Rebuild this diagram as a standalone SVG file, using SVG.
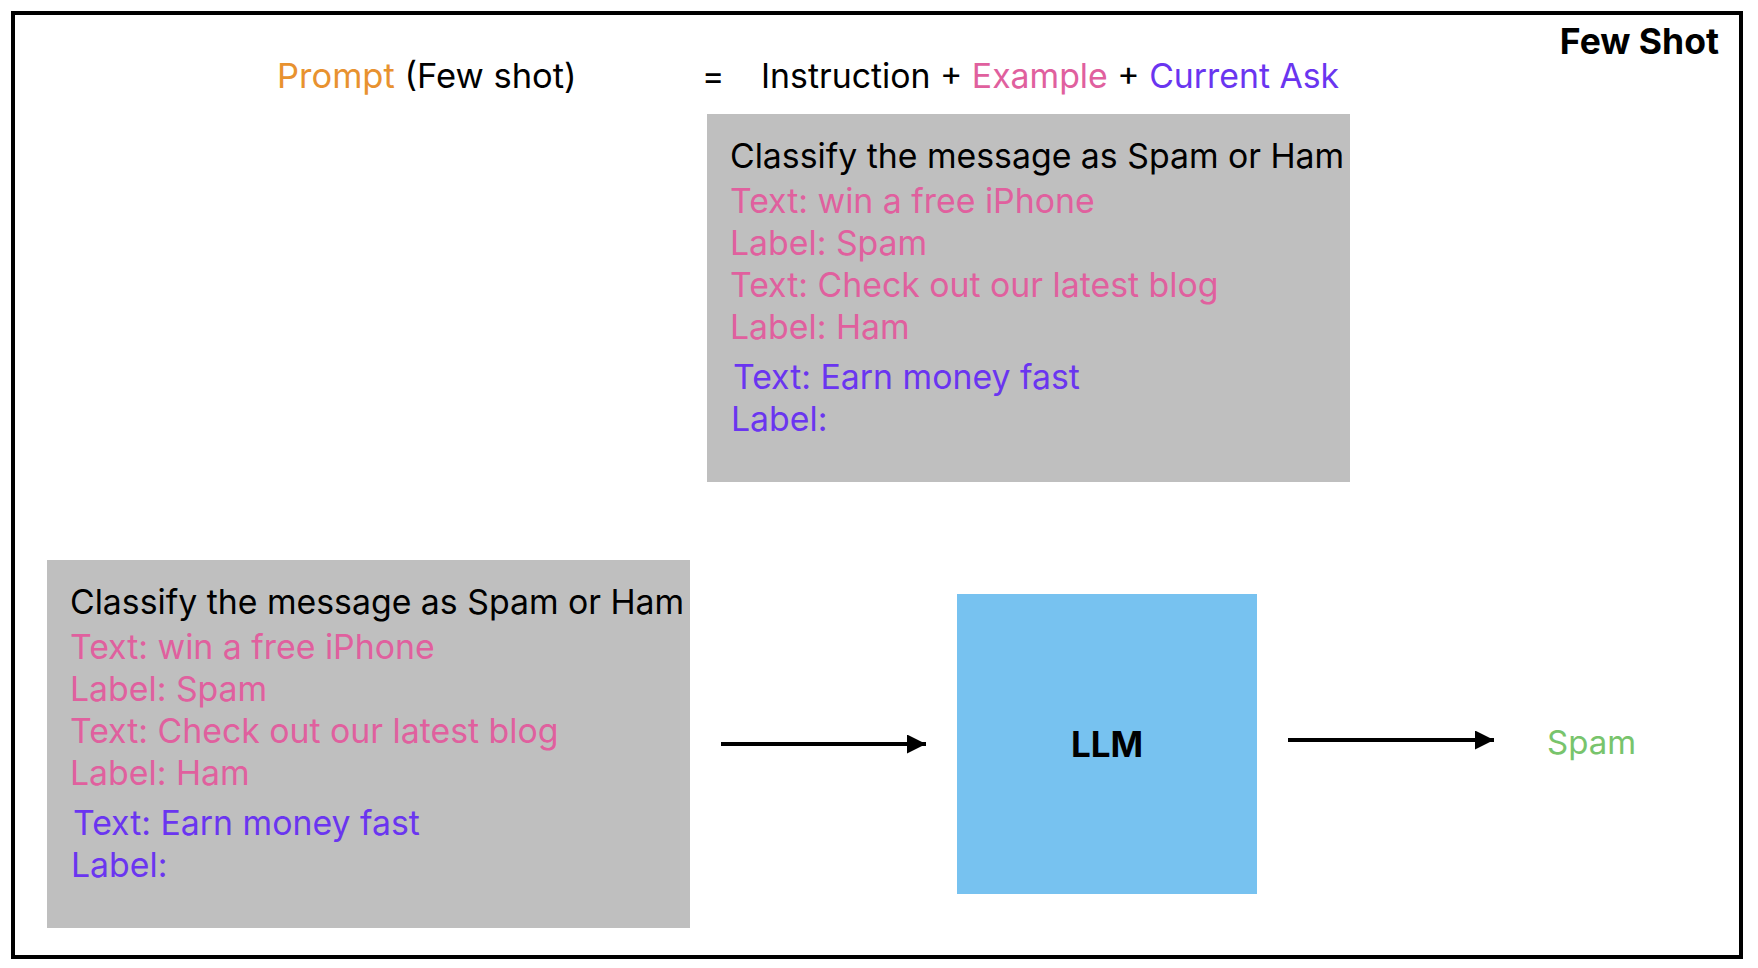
<svg xmlns="http://www.w3.org/2000/svg" width="1758" height="968" viewBox="0 0 1758 968">
<defs>
<style>
text{font-family:Inter,"Liberation Sans",Arial,sans-serif;font-size:33.8px;fill:#000}
.b{font-weight:bold}
.fs{font-size:35.5px}
.or{fill:#E8922F}
.pk{fill:#E0609E}
.pu{fill:#6A35F0}
.gr{fill:#78C46C}
.box{fill:#BFBFBF}
</style>
<marker id="ah" markerWidth="19" markerHeight="19" refX="19" refY="9.5" orient="auto" markerUnits="userSpaceOnUse">
<path d="M0,0 L19,9.5 L0,19 Z" fill="#000"/>
</marker>
</defs>
<rect width="1758" height="968" fill="#fff"/>
<rect x="13" y="13" width="1728" height="944" fill="none" stroke="#000" stroke-width="4"/>
<g id="title">
<text x="1719" y="54" class="b fs" text-anchor="end">Few Shot</text>
<text x="277" y="88" style="font-size:34.5px"><tspan class="or">Prompt</tspan> (Few shot)</text>
<text x="702" y="88">=</text>
<text x="761" y="88">Instruction + <tspan class="pk">Example</tspan> + <tspan class="pu">Current Ask</tspan></text>
</g>
<g id="prompt-top">
<rect class="box" x="707" y="114" width="643" height="368"/>
<text x="730" y="168">Classify the message as Spam or Ham</text>
<text x="730" y="213" class="pk">Text: win a free iPhone</text>
<text x="730" y="255" class="pk">Label: Spam</text>
<text x="730" y="297" class="pk">Text: Check out our latest blog</text>
<text x="730" y="339" class="pk">Label: Ham</text>
<text x="733" y="389" class="pu">Text: Earn money fast</text>
<text x="731" y="431" class="pu">Label:</text>
</g>
<g id="prompt-bottom">
<rect class="box" x="47" y="560" width="643" height="368"/>
<text x="70" y="614">Classify the message as Spam or Ham</text>
<text x="70" y="659" class="pk">Text: win a free iPhone</text>
<text x="70" y="701" class="pk">Label: Spam</text>
<text x="70" y="743" class="pk">Text: Check out our latest blog</text>
<text x="70" y="785" class="pk">Label: Ham</text>
<text x="73" y="835" class="pu">Text: Earn money fast</text>
<text x="71" y="877" class="pu">Label:</text>
</g>
<g id="llm">
<rect x="957" y="594" width="300" height="300" fill="#77C2F0"/>
<text x="1107" y="757" class="b" text-anchor="middle" style="font-size:35px">LLM</text>
</g>
<g id="output">
<text x="1547" y="754" class="gr" style="font-size:33px">Spam</text>
</g>
<g id="connectors" stroke="#000" stroke-width="4" fill="none">
<line x1="721" y1="744" x2="926" y2="744" marker-end="url(#ah)"/>
<line x1="1288" y1="740" x2="1494" y2="740" marker-end="url(#ah)"/>
</g>
</svg>
